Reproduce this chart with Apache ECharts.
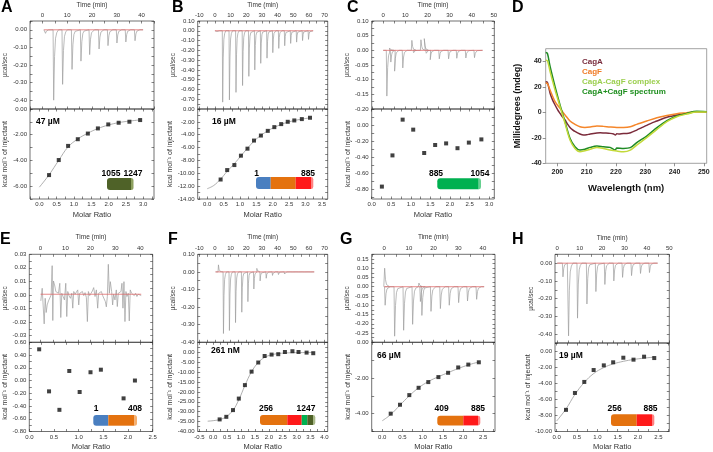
<!DOCTYPE html>
<html>
<head>
<meta charset="utf-8">
<script src="https://cdn.jsdelivr.net/npm/echarts@6.0.0/dist/echarts.min.js"></script>
<style>
html,body{margin:0;padding:0;background:#ffffff;}
#chart{width:713px;height:452px;}
</style>
</head>
<body>
<div id="chart"></div>
<script>
// ================= DATA =================
// ---- Panel A ----
const aInjTime = [1.1, 4.4, 8.0, 11.8, 15.4, 18.9, 22.7, 26.3, 29.9, 33.5, 37.2];
const aInjPeak = [-0.02, -0.40, -0.31, -0.225, -0.178, -0.141, -0.109, -0.09, -0.075, -0.069, -0.062];
const aRatio = [0.28, 0.56, 0.83, 1.11, 1.40, 1.69, 1.99, 2.29, 2.60, 2.91];
const aHeat = [-5.14, -3.97, -2.87, -2.35, -1.91, -1.51, -1.20, -1.07, -0.99, -0.86];
const aFitRatio = [0, 0.28, 0.56, 0.83, 1.11, 1.40, 1.69, 1.99, 2.29, 2.60, 2.91];
const aFitHeat = [-6.08, -5.12, -3.99, -2.95, -2.33, -1.88, -1.52, -1.25, -1.06, -0.94, -0.85];
const aTimeLabels = [0, 10, 20, 30, 40];
const aRawLabels = [0, -0.1, -0.2, -0.3, -0.4];
const aRatioLabels = [0, 0.5, 1, 1.5, 2, 2.5, 3];
const aHeatLabels = [0, -2, -4, -6];

// ---- Panel B ----
const bInjTime = [0.8, 4.8, 9.1, 13.3, 17.5, 21.5, 25.3, 29.1, 33.1, 36.8, 40.6, 44.4, 48.2, 52.0, 55.8, 59.6];
const bInjPeak = [-0.02, -0.73, -0.707, -0.63, -0.56, -0.466, -0.40, -0.333, -0.28, -0.224, -0.18, -0.153, -0.129, -0.116, -0.10, -0.088];
const bRatio = [0.41, 0.61, 0.83, 1.03, 1.23, 1.43, 1.64, 1.85, 2.05, 2.26, 2.46, 2.66, 2.89, 3.14];
const bHeat = [-10.97, -9.5, -8.72, -7.26, -6.17, -4.91, -4.13, -3.40, -2.82, -2.35, -1.99, -1.78, -1.57, -1.36];
const bFitRatio = [0, 0.2, 0.41, 0.61, 0.83, 1.03, 1.23, 1.43, 1.64, 1.85, 2.05, 2.26, 2.46, 2.66, 2.89, 3.14];
const bFitHeat = [-12.4, -11.9, -10.9, -9.7, -8.5, -7.3, -6.1, -5.0, -4.1, -3.4, -2.85, -2.4, -2.05, -1.8, -1.57, -1.38];
const bTimeLabels = [-10, 0, 10, 20, 30, 40, 50, 60, 70];
const bRawLabels = [0.1, 0, -0.1, -0.2, -0.3, -0.4, -0.5, -0.6, -0.7];
const bRatioLabels = [0, 0.5, 1, 1.5, 2, 2.5, 3, 3.5];
const bHeatLabels = [0, -2, -4, -6, -8, -10, -12, -14];

// ---- Panel C ----
const cEvtTime = [1.5, 2.7, 3.3, 5.0, 8.7, 12.8, 13.6, 16.9, 18.4, 19.3, 21.1, 25.2, 29.4, 33.1, 37.2, 41.1];
const cEvtPeak = [-0.156, 0.008, -0.04, -0.071, -0.06, 0.034, -0.008, 0.036, 0.04, -0.01, -0.032, -0.029, -0.029, -0.027, -0.026, -0.025];
const cRatio = [0.26, 0.53, 0.79, 1.06, 1.34, 1.62, 1.90, 2.19, 2.48, 2.80];
const cHeat = [-0.77, -0.38, 0.067, -0.058, -0.35, -0.25, -0.23, -0.29, -0.22, -0.18];
const cTimeLabels = [0, 10, 20, 30, 40, 50];
const cRawLabels = [0.1, 0.05, 0, -0.05, -0.1, -0.15, -0.2];
const cRatioLabels = [0, 0.5, 1, 1.5, 2, 2.5, 3];
const cHeatLabels = [0, -0.2, -0.4, -0.6, -0.8];

// ---- Panel D (CD spectra) ----
const cdWlCagA = [196,196.6,197.5,198.3,199.2,200.1,200.9,201.7,202.6,203.4,204.3,205.1,206,207.7,208.9,210,211.2,213.5,214.6,216,218,219.2,219.8,220.3,221,222.6,223.7,225,227.1,228.8,230.5,232,234,235.7,237.4,239,240.8,242.5,244.2,246,247.6,249.3,251];
const cdMdegCagA = [24,23.5,15,10,5.8,2,-0.8,-3.5,-6,-9,-11.8,-13.5,-15,-17,-17.8,-17.6,-17,-16.2,-16,-16.2,-16.5,-17,-17.8,-16.8,-17,-16.5,-16.5,-16,-13.9,-12,-10.2,-8.6,-6.8,-5.2,-3.9,-3,-2.1,-1.4,-0.8,0,0.5,0.5,0.3];
const cdWlCagF = [196,196.6,197.5,199.2,200.9,202.6,204.3,206,207.7,209.4,211.2,213.5,215.7,218,220.3,222.6,224.9,227.1,230.5,234,237.4,240.8,244.2,247.6,251];
const cdMdegCagF = [23,22.5,17.5,8.4,3.1,-2,-6.8,-9.4,-11.3,-11.8,-11.5,-10.7,-11,-11.5,-11.8,-11.8,-11.3,-9.4,-6.8,-4.2,-2.4,-1,-0.3,0.5,0.3];
const cdWlComplex = [196,196.6,197.5,199.2,200.9,202.6,204.3,206,207.7,209.4,211.2,213.5,215.7,218,220.3,222.6,224.9,227.1,230.5,234,237.4,240.8,244.2,247.6,251];
const cdMdegComplex = [41,40.5,32,17.5,4.5,-8.6,-21.7,-28.3,-30.9,-30.1,-29,-27.5,-28.3,-29.6,-30.4,-30.9,-29.6,-25.7,-19.9,-13.4,-7.3,-3.4,-1.3,0.3,0.3];
const cdWlSum = [196,196.6,197.5,199.2,200.9,202.6,204.3,206,207.7,209.4,211.2,213.5,215.7,218,219.7,220.3,222.6,224.9,227.1,230.5,234,237.4,240.8,244.2,247.6,251];
const cdMdegSum = [47,46.3,36,20.2,5.8,-7.3,-20.4,-27,-29.6,-29,-27.5,-26.4,-27,-27.5,-29.6,-28,-28.3,-27.7,-23.8,-18.6,-12,-6.5,-2.9,-0.8,0.8,0.5];
const cdSeriesNames = ['CagA', 'CagF', 'CagA-CagF complex', 'CagA+CagF spectrum'];
const cdXLabels = [200, 210, 220, 230, 240, 250];
const cdYLabels = [-40, -20, 0, 20, 40];

// ---- Panel E ----
const eNoiseTime = [0.13,0.67,1.07,1.47,1.87,2.27,2.67,3.2,3.73,4.27,4.67,4.93,5.2,5.73,6.13,6.67,7.2,7.73,8.13,8.53,9.07,9.6,10.13,10.53,10.93,11.47,12,12.53,12.93,13.33,13.87,14.4,14.93,15.33,15.73,16.27,16.8,17.33,17.87,18.4,18.8,19.2,19.73,20.27,20.8,21.33,21.87,22.4,22.93,23.33,23.87,24.4,24.93,25.47,26,26.4,26.8,27.2,27.6,28,28.53,28.93,29.33,29.87,30.4,30.8,31.2,31.73,32.27,32.67,33.07,33.47,33.87,34.27,34.67,35.2,35.6,36,36.53,37.07,37.6,38.13,38.67,39.2,39.73,40.4];
const eNoiseMilli = [-4.4,4.9,5.9,-21.4,-2.5,-13,-7.4,-4.4,-5.4,0,21.6,-18.9,10.3,6.6,2.5,3.7,1.2,8.6,-16.7,1.2,-1.2,-3.7,8.6,-16,2.5,-0.7,-2.5,1.2,-9.8,2.5,0.5,1.2,3.7,-7.4,1.2,0,2.5,-0.5,1.7,-2,-19.7,2.5,-0.5,1.2,2.9,5.4,-1.2,3.7,-9.8,1.2,0,2.5,-0.5,-1.2,-4.9,-8.8,-1.2,22.6,1.2,9.8,2.5,-7.4,0.5,-3.7,3.7,-8.6,1.2,0,2.5,8.6,-9.8,9.8,-19.7,2.5,-1.2,1.2,-19.2,3.7,1.2,2.5,-0.5,1.2,-1.2,0.5,0,-0.5];
const eRatio = [0.2, 0.4, 0.61, 0.81, 1.02, 1.24, 1.45, 1.91, 2.14];
const eHeat = [0.49, -0.17, -0.46, 0.15, -0.18, 0.13, 0.17, -0.28, 0.0];
const eTimeLabels = [0, 10, 20, 30, 40];
const eRawLabels = [0.03, 0.02, 0.01, 0, -0.01, -0.02, -0.03];
const eRatioLabels = [0, 0.5, 1, 1.5, 2, 2.5];
const eHeatLabels = [0.6, 0.4, 0.2, 0, -0.2, -0.4, -0.6, -0.8];

// ---- Panel F ----
const fInjTime = [2.1, 5.3, 9.1, 13.0, 17.0, 20.9, 24.7, 26.6, 28.7, 32.6, 36.6, 40.4, 44.3, 48.1, 51.9, 55.7, 59.6];
const fInjPeak = [0.04, -0.35, -0.333, -0.288, -0.229, -0.169, -0.097, 0.02, -0.051, -0.036, -0.02, -0.015, -0.012, -0.01, -0.009, -0.008, -0.008];
const fRatio = [0.23, 0.47, 0.71, 0.92, 1.14, 1.38, 1.62, 1.85, 2.10, 2.34, 2.58, 2.85, 3.07, 3.36, 3.60];
const fHeat = [-33.9, -32.6, -29.2, -23.4, -16.6, -9.8, -5.2, -1.9, -1.2, -1.0, 0.1, 0.5, 0.1, -0.2, -0.5];
const fFitRatio = [-0.2, 0.23, 0.47, 0.71, 0.92, 1.14, 1.38, 1.62, 1.85, 2.10, 2.34, 2.58, 2.85, 3.07, 3.36, 3.60];
const fFitHeat = [-34.8, -34.0, -32.5, -29.3, -24.0, -16.8, -9.8, -5.2, -2.6, -1.3, -0.7, -0.4, -0.25, -0.2, -0.15, -0.1];
const fTimeLabels = [-10, 0, 10, 20, 30, 40, 50, 60, 70];
const fRawLabels = [0.1, 0, -0.1, -0.2, -0.3, -0.4];
const fRatioLabels = [-0.5, 0, 0.5, 1, 1.5, 2, 2.5, 3, 3.5, 4];
const fHeatLabels = [0, -5, -10, -15, -20, -25, -30, -35, -40];

// ---- Panel G ----
const gInjTime = [0.0, 0.2, 4.05, 7.7, 11.35, 13.9, 14.5, 15.1, 18.8, 22.6, 26.2, 30.0, 33.6, 37.3];
const gInjPeak = [0.10, -0.10, -0.267, -0.235, -0.203, 0.02, -0.08, -0.155, -0.133, -0.118, -0.10, -0.086, -0.077, -0.068];
const gRatio = [0.21, 0.44, 0.67, 0.90, 1.14, 1.39, 1.63, 1.88, 2.13, 2.39];
const gHeat = [-4.0, -3.5, -2.96, -2.55, -2.23, -1.95, -1.71, -1.41, -1.25, -1.12];
const gFitRatio = [0, 0.21, 0.44, 0.67, 0.90, 1.14, 1.39, 1.63, 1.88, 2.13, 2.39];
const gFitHeat = [-4.4, -4.05, -3.52, -3.0, -2.55, -2.2, -1.93, -1.7, -1.47, -1.27, -1.1];
const gTimeLabels = [0, 10, 20, 30, 40];
const gRawLabels = [0.15, 0.1, 0.05, 0, -0.05, -0.1, -0.15, -0.2, -0.25];
const gRatioLabels = [0, 0.5, 1, 1.5, 2, 2.5];
const gHeatLabels = [0, -2, -4];

// ---- Panel H ----
const hInjTime = [2.4, 4.9, 8.9, 13.1, 17.1, 21.1, 25.1, 29.0, 33.0, 37.0, 41.0];
const hInjPeak = [-0.077, -0.41, -0.31, -0.23, -0.16, -0.12, -0.10, -0.08, -0.07, -0.058, -0.053];
const hRatio = [0.23, 0.45, 0.68, 0.91, 1.16, 1.39, 1.64, 1.89, 2.15, 2.40];
const hHeat = [-7.31, -5.21, -3.84, -2.36, -1.78, -1.40, -0.83, -1.07, -0.70, -0.87];
const hFitRatio = [0, 0.23, 0.45, 0.68, 0.91, 1.16, 1.39, 1.64, 1.89, 2.15, 2.40];
const hFitHeat = [-8.7, -7.2, -5.4, -3.9, -2.8, -2.05, -1.6, -1.28, -1.05, -0.88, -0.75];
const hTimeLabels = [0, 10, 20, 30, 40, 50];
const hRawLabels = [0, -0.1, -0.2, -0.3, -0.4];
const hRatioLabels = [0, 0.5, 1, 1.5, 2, 2.5];
const hHeatLabels = [0, -2, -4, -6, -8, -10];

// Shape of one injection peak (minutes after injection, fraction of peak height)
const spikeProfile = [[-0.1, 0], [0.15, 1], [0.5, 0.38], [0.9, 0.12], [1.4, 0.04], [2.1, 0]];

// ================= HELPERS =================
const FONT = 'Arial, "Liberation Sans", Helvetica, sans-serif';
const zip = (a, b) => a.map((v, i) => [v, b[i]]);
function buildTrace(t0, t1, times, peaks, base) {
  const out = [[t0, base]];
  for (let i = 0; i < times.length; i++) {
    for (const [dt, f] of spikeProfile) out.push([times[i] + dt, base + f * peaks[i]]);
  }
  out.push([t1, base]);
  return out;
}
function ticksOf(s) {
  const out = [];
  const n0 = Math.ceil(s.min / s.step - 1e-9), n1 = Math.floor(s.max / s.step + 1e-9);
  for (let n = n0; n <= n1; n++) out.push(+(n * s.step).toFixed(6));
  return out;
}
const fmtInt = v => String(Math.round(v));
const fmt1 = v => (+v).toFixed(1);
const fmt2 = v => (Math.abs(v) < 1e-9 ? 0 : +v).toFixed(2);

const grids = [], xAxes = [], yAxes = [], series = [], graphics = [];

function addX(grid, pos, s, show, name, fmt, gap) {
  xAxes.push({
    type: 'value', gridIndex: grid, position: pos, min: s.min, max: s.max,
    axisLine: { show: false, onZero: false }, splitLine: { show: false },
    axisTick: { show: true, inside: true, length: 2.5, lineStyle: { color: '#333', width: 0.6 }, customValues: ticksOf(s) },
    axisLabel: { show: show, customValues: s.labels, formatter: fmt, fontSize: 6, color: '#333', margin: 2.5, fontFamily: FONT },
    name: show ? name : '', nameLocation: 'middle', nameGap: gap || 12,
    nameTextStyle: { fontSize: name === 'Molar Ratio' ? 7.5 : 6.5, color: '#333', fontFamily: FONT }
  });
  return xAxes.length - 1;
}
function addY(grid, pos, s, show, name, fmt, gap) {
  yAxes.push({
    type: 'value', gridIndex: grid, position: pos, min: s.min, max: s.max,
    axisLine: { show: false, onZero: false }, splitLine: { show: false },
    axisTick: { show: true, inside: true, length: 2.5, lineStyle: { color: '#333', width: 0.6 }, customValues: ticksOf(s) },
    axisLabel: { show: show, customValues: s.labels, formatter: fmt, fontSize: 6, color: '#333', margin: 3, fontFamily: FONT },
    name: show ? name : '', nameLocation: 'middle', nameGap: gap || 20,
    nameTextStyle: { fontSize: name === 'µcal/sec' ? 6.5 : 7, color: '#333', fontFamily: FONT }
  });
  return yAxes.length - 1;
}

function itcPanel(p) {
  const gT = grids.length;
  grids.push({ left: p.L, top: p.T, width: p.R - p.L, height: p.M - p.T, show: true, borderColor: '#333', borderWidth: 0.7, backgroundColor: 'transparent' });
  const gB = grids.length;
  grids.push({ left: p.L, top: p.M, width: p.R - p.L, height: p.B - p.M, show: true, borderColor: '#333', borderWidth: 0.7, backgroundColor: 'transparent' });
  const xT = addX(gT, 'top', p.time, true, 'Time (min)', fmtInt, p.timeGap);
  addX(gT, 'bottom', p.time, false);
  const yT = addY(gT, 'left', p.raw, true, 'µcal/sec', fmt2, p.yGap);
  addY(gT, 'right', p.raw, false);
  const xB = addX(gB, 'bottom', p.ratio, true, 'Molar Ratio', fmt1, p.ratioGap);
  addX(gB, 'top', p.ratio, false);
  const yB = addY(gB, 'left', p.heat, true, 'kcal mol⁻¹ of injectant', fmt2, p.yGap);
  addY(gB, 'right', p.heat, false);
  series.push({ type: 'line', xAxisIndex: xT, yAxisIndex: yT, data: p.trace, symbol: 'none', lineStyle: { color: '#9c9c9c', width: 0.7 }, silent: true, z: 2 });
  series.push({ type: 'line', xAxisIndex: xT, yAxisIndex: yT, data: p.base, symbol: 'none', lineStyle: { color: '#e06a6a', width: 0.8 }, silent: true, z: 3 });
  if (p.fit) series.push({ type: 'line', xAxisIndex: xB, yAxisIndex: yB, data: p.fit, smooth: 0.4, symbol: 'none', lineStyle: { color: '#9a9a9a', width: 0.8 }, silent: true, z: 2 });
  series.push({ type: 'scatter', xAxisIndex: xB, yAxisIndex: yB, data: p.pts, symbol: 'rect', symbolSize: 4, itemStyle: { color: '#111' }, silent: true, z: 4 });
}

const panels = [
  { L: 30, R: 154, T: 21, M: 109, B: 199, yGap: 21, timeGap: 12.5, ratioGap: 12,
    time: { min: -5, max: 45, step: 5, labels: aTimeLabels }, raw: { min: -0.45, max: 0.05, step: 0.05, labels: aRawLabels },
    ratio: { min: -0.27, max: 3.31, step: 0.25, labels: aRatioLabels }, heat: { min: -7, max: 0, step: 1, labels: aHeatLabels },
    trace: buildTrace(0.6, 40.6, aInjTime, aInjPeak, 0), base: [[0.6, 0], [40.6, 0]], pts: zip(aRatio, aHeat), fit: zip(aFitRatio, aFitHeat) },
  { L: 197.7, R: 327.7, T: 21, M: 109, B: 199, yGap: 14, timeGap: 12.5, ratioGap: 12,
    time: { min: -11, max: 72, step: 5, labels: bTimeLabels }, raw: { min: -0.8, max: 0.1, step: 0.05, labels: bRawLabels },
    ratio: { min: -0.29, max: 3.68, step: 0.25, labels: bRatioLabels }, heat: { min: -14, max: 0, step: 1, labels: bHeatLabels },
    trace: buildTrace(0, 62.7, bInjTime, bInjPeak, 0), base: [[0, 0], [62.7, 0]], pts: zip(bRatio, bHeat), fit: zip(bFitRatio, bFitHeat) },
  { L: 371.7, R: 494.3, T: 21, M: 109, B: 199, yGap: 14, timeGap: 12.5, ratioGap: 12,
    time: { min: -5.2, max: 50.2, step: 5, labels: cTimeLabels }, raw: { min: -0.2, max: 0.1, step: 0.025, labels: cRawLabels },
    ratio: { min: 0, max: 3.13, step: 0.25, labels: cRatioLabels }, heat: { min: -0.925, max: 0.2, step: 0.1, labels: cHeatLabels },
    trace: buildTrace(0, 44.9, cEvtTime, cEvtPeak, 0), base: [[0, 0], [44.9, 0]], pts: zip(cRatio, cHeat), fit: null },
  { L: 29.3, R: 152.7, T: 254.3, M: 342.3, B: 432.3, yGap: 20.5, timeGap: 13.5, ratioGap: 11.5,
    time: { min: -4.5, max: 45, step: 5, labels: eTimeLabels }, raw: { min: -0.035, max: 0.03, step: 0.005, labels: eRawLabels },
    ratio: { min: 0, max: 2.5, step: 0.25, labels: eRatioLabels }, heat: { min: -0.8, max: 0.6, step: 0.1, labels: eHeatLabels },
    trace: zip(eNoiseTime, eNoiseMilli.map(v => v / 1000)), base: [[0, 0.0005], [40.4, 0.0005]], pts: zip(eRatio, eHeat), fit: null },
  { L: 197.7, R: 327.7, T: 254.3, M: 342.3, B: 432.3, yGap: 14, timeGap: 13.5, ratioGap: 11.5,
    time: { min: -11, max: 72, step: 5, labels: fTimeLabels }, raw: { min: -0.4, max: 0.1, step: 0.05, labels: fRawLabels },
    ratio: { min: -0.56, max: 4.12, step: 0.25, labels: fRatioLabels }, heat: { min: -40, max: 5, step: 2.5, labels: fHeatLabels },
    trace: buildTrace(0.4, 63.4, fInjTime, fInjPeak, 0), base: [[0.4, 0], [63.4, 0]], pts: zip(fRatio, fHeat), fit: zip(fFitRatio, fFitHeat) },
  { L: 371.7, R: 495, T: 254.3, M: 342.3, B: 432.3, yGap: 14, timeGap: 13.5, ratioGap: 11.5,
    time: { min: -5.1, max: 44.9, step: 5, labels: gTimeLabels }, raw: { min: -0.3, max: 0.175, step: 0.025, labels: gRawLabels },
    ratio: { min: -0.26, max: 2.79, step: 0.25, labels: gRatioLabels }, heat: { min: -5, max: 0, step: 1, labels: gHeatLabels },
    trace: buildTrace(-0.2, 40.5, gInjTime, gInjPeak, 0), base: [[0, 0], [40.5, 0]], pts: zip(gRatio, gHeat), fit: zip(gFitRatio, gFitHeat) },
  { L: 555, R: 669.3, T: 254.3, M: 343, B: 432.3, yGap: 18.5, timeGap: 12.5, ratioGap: 11.5,
    time: { min: -1, max: 50, step: 5, labels: hTimeLabels }, raw: { min: -0.45, max: 0.05, step: 0.05, labels: hRawLabels },
    ratio: { min: -0.04, max: 2.77, step: 0.25, labels: hRatioLabels }, heat: { min: -10, max: 1, step: 1, labels: hHeatLabels },
    trace: buildTrace(0, 44.8, hInjTime, hInjPeak, 0), base: [[0, 0], [44.8, 0]], pts: zip(hRatio, hHeat), fit: zip(hFitRatio, hFitHeat) }
];
panels.forEach(itcPanel);

// ---- CD panel D ----
const gD = grids.length;
grids.push({ left: 545.7, top: 48.7, width: 161, height: 114.6, show: true, borderColor: '#8a8a8a', borderWidth: 0.8, backgroundColor: 'transparent' });
xAxes.push({
  type: 'value', gridIndex: gD, position: 'bottom', min: 196, max: 251,
  axisLine: { show: false, onZero: false }, splitLine: { show: false },
  axisTick: { show: true, inside: false, length: 3, lineStyle: { color: '#666', width: 0.7 }, customValues: cdXLabels },
  axisLabel: { customValues: cdXLabels, formatter: fmtInt, fontSize: 7, fontWeight: 'bold', color: '#222', margin: 5.5, fontFamily: FONT },
  name: 'Wavelength (nm)', nameLocation: 'middle', nameGap: 20.5,
  nameTextStyle: { fontSize: 9.5, fontWeight: 'bold', color: '#111', fontFamily: FONT }
});
const xD = xAxes.length - 1;
yAxes.push({
  type: 'value', gridIndex: gD, position: 'left', min: -40, max: 50,
  axisLine: { show: false, onZero: false }, splitLine: { show: false },
  axisTick: { show: true, inside: false, length: 3, lineStyle: { color: '#666', width: 0.7 }, customValues: cdYLabels },
  axisLabel: { customValues: cdYLabels, formatter: fmtInt, fontSize: 7, fontWeight: 'bold', color: '#222', margin: 4, fontFamily: FONT },
  name: 'Millidegrees (mdeg)', nameLocation: 'middle', nameGap: 24,
  nameTextStyle: { fontSize: 9, fontWeight: 'bold', color: '#111', fontFamily: FONT }
});
const yD = yAxes.length - 1;
const cdLineColors = ['#7b2b3b', '#f5862a', '#c3d93a', '#1f8b25'];
const cdTextColors = ['#7a2d3e', '#f07c28', '#9ccf4f', '#1f8f1f'];
const cdData = [zip(cdWlCagA, cdMdegCagA), zip(cdWlCagF, cdMdegCagF), zip(cdWlComplex, cdMdegComplex), zip(cdWlSum, cdMdegSum)];
cdSeriesNames.forEach((nm, i) => {
  series.push({ type: 'line', name: nm, xAxisIndex: xD, yAxisIndex: yD, data: cdData[i], smooth: 0.3, symbol: 'none',
    lineStyle: { color: cdLineColors[i], width: 1.5 }, itemStyle: { color: cdLineColors[i] }, silent: true, z: i === 2 ? 3 : 2 });
});

// ---- annotations: panel letters, Kd values, domain bars ----
function txt(x, y, s, font, color, align, valign) {
  graphics.push({ type: 'text', x: x, y: y, silent: true, z: 100,
    style: { text: s, font: font, fill: color || '#000', textAlign: align || 'left', textVerticalAlign: valign || 'middle' } });
}
const letterFont = 'bold 16px ' + FONT;
[['A', 1, 0], ['B', 172, 0], ['C', 347, 0], ['D', 512, 0], ['E', 0, 232], ['F', 168, 232], ['G', 340, 232], ['H', 512, 232]]
  .forEach(([s, x, y]) => txt(x, y, s, letterFont, '#000', 'left', 'top'));

const kdFont = 'bold 8.5px ' + FONT;
txt(36, 122, '47 µM', kdFont); txt(212, 122, '16 µM', kdFont); txt(211, 351, '261 nM', kdFont);
txt(377, 356, '66 µM', kdFont); txt(559, 356, '19 µM', kdFont);

const BLUE = '#4a7fc0', ORANGE = '#e4720f', RED = '#ff1a1a', GREEN = '#00b050', OLIVE = '#4f6228';
function domainBar(y, h, segs, cap) {
  segs.forEach((s, i) => {
    graphics.push({ type: 'rect', silent: true, z: 90, shape: { x: s[0], y: y, width: s[1] - s[0], height: h, r: i === 0 ? [3, 0, 0, 3] : 0 }, style: { fill: s[2] } });
  });
  graphics.push({ type: 'rect', silent: true, z: 90, shape: { x: cap[0], y: y, width: cap[1] - cap[0], height: h, r: [0, 2.5, 2.5, 0] }, style: { fill: cap[2] } });
}
const barFont = 'bold 8.5px ' + FONT;
domainBar(178, 12, [[107, 131, OLIVE]], [131, 133.5, '#8da05f']);
txt(111, 173.3, '1055', barFont, '#000', 'center'); txt(133, 173.3, '1247', barFont, '#000', 'center');
domainBar(177, 12, [[256, 270.7, BLUE], [270.7, 295.7, ORANGE], [295.7, 311, RED]], [311, 313.3, '#ff8080']);
txt(256.7, 173.3, '1', barFont, '#000', 'center'); txt(308, 173.3, '885', barFont, '#000', 'center');
domainBar(178.3, 11, [[437.3, 478.7, GREEN]], [478.7, 481, '#66d08f']);
txt(436, 173.3, '885', barFont, '#000', 'center'); txt(480, 173.3, '1054', barFont, '#000', 'center');
domainBar(415, 10.7, [[93.3, 108.3, BLUE], [108.3, 134.5, ORANGE]], [134.5, 137, '#f5b070']);
txt(96, 409, '1', barFont, '#000', 'center'); txt(135, 409, '408', barFont, '#000', 'center');
domainBar(415, 10, [[260, 287.3, ORANGE], [287.3, 301.7, RED], [301.7, 307.3, GREEN], [307.3, 313, OLIVE]], [313, 315.3, '#a8b888']);
txt(266, 408.3, '256', barFont, '#000', 'center'); txt(306, 408.3, '1247', barFont, '#000', 'center');
domainBar(415.7, 9.7, [[437.3, 463.3, ORANGE], [463.3, 478, RED]], [478, 480.3, '#ff8080']);
txt(441.7, 409, '409', barFont, '#000', 'center'); txt(478, 409, '885', barFont, '#000', 'center');
domainBar(414.3, 11.7, [[611, 636.7, ORANGE], [636.7, 652, RED]], [652, 654.3, '#ff8080']);
txt(614.7, 408.3, '256', barFont, '#000', 'center'); txt(650.5, 408.3, '885', barFont, '#000', 'center');

// ================= CHART =================
const chart = echarts.init(document.getElementById('chart'), null, { renderer: 'canvas' });
chart.setOption({
  backgroundColor: '#ffffff',
  animation: false,
  textStyle: { fontFamily: FONT },
  legend: {
    orient: 'vertical', left: 577, top: 58, padding: 0, itemWidth: 0, itemHeight: 0, itemGap: 2, selectedMode: false,
    icon: 'rect',
    textStyle: { fontSize: 8, fontWeight: 'bold', fontFamily: FONT, lineHeight: 8 },
    data: cdSeriesNames.map((n, i) => ({ name: n, textStyle: { color: cdTextColors[i] } }))
  },
  grid: grids,
  xAxis: xAxes,
  yAxis: yAxes,
  series: series,
  graphic: graphics
});
</script>
</body>
</html>
